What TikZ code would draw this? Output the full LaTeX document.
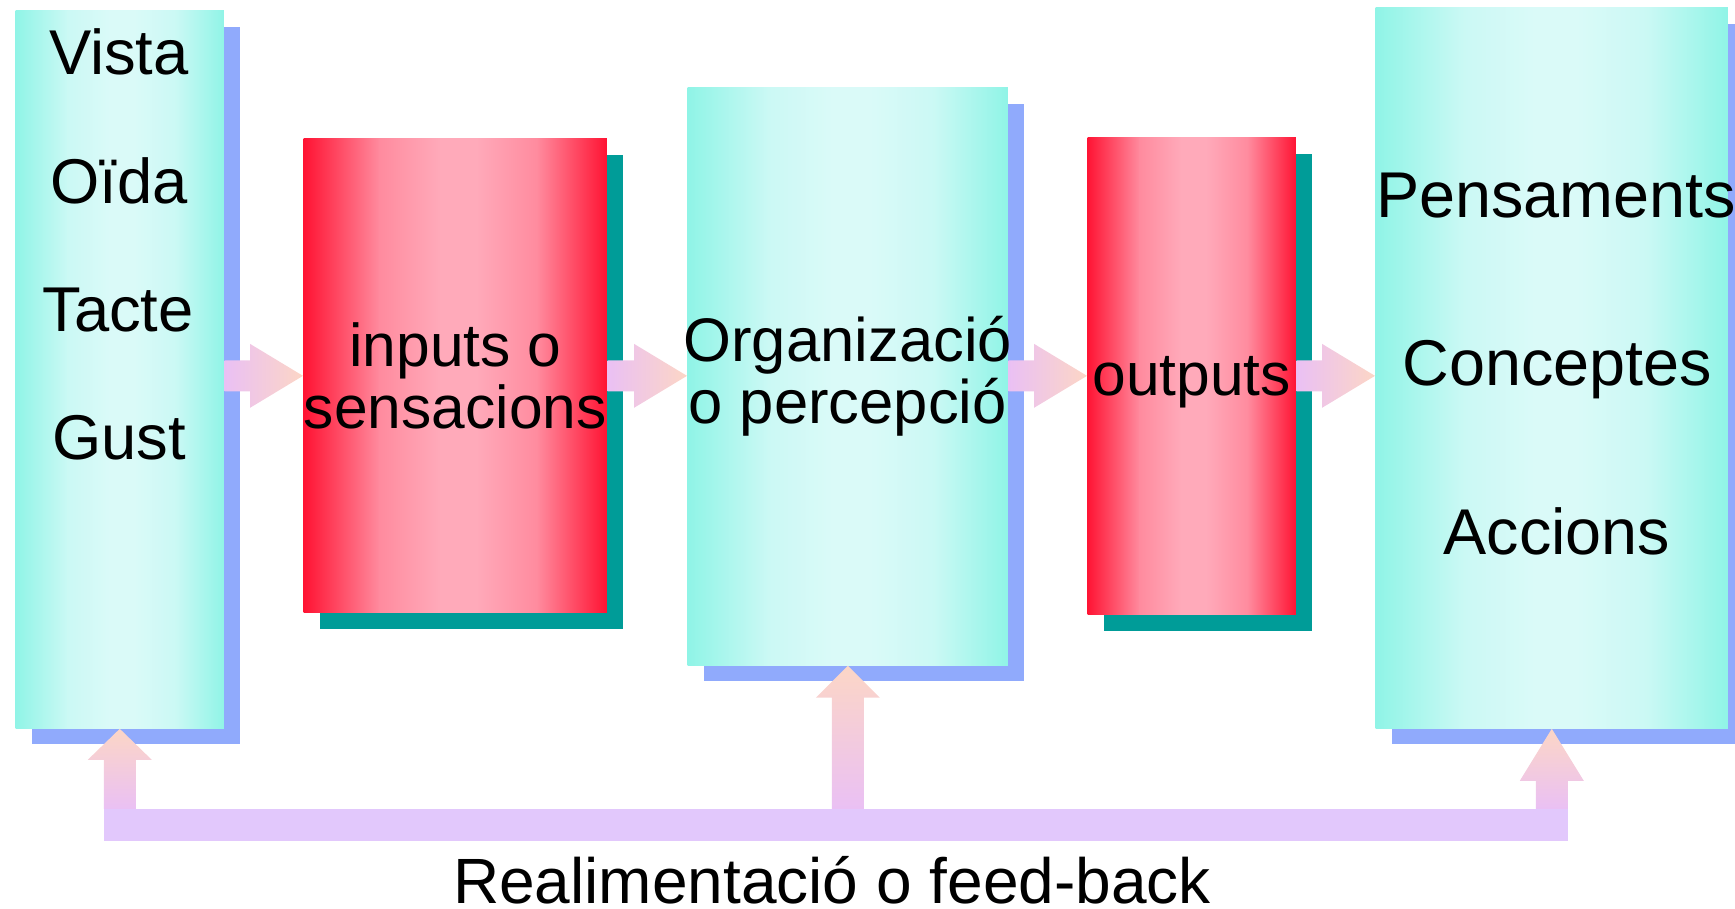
\documentclass[tikz,border=0pt]{standalone}
\usepackage{xcolor}
\usepackage{fontspec}
\setmainfont{Liberation Sans}
\usetikzlibrary{positioning,calc,shadows}

\definecolor{aquaedge}{RGB}{142,244,230}
\definecolor{aquamid}{RGB}{218,250,248}
\definecolor{rededge}{RGB}{255,16,48}
\definecolor{redmid}{RGB}{255,170,186}
\definecolor{shadowblue}{RGB}{144,170,252}
\definecolor{shadowteal}{RGB}{0,156,152}
\definecolor{feedlila}{RGB}{226,200,252}
\definecolor{arrowlila}{RGB}{234,192,244}
\definecolor{arrowpeach}{RGB}{252,214,198}

% degradat vora-centre-vora dins d'una caixa
\newcommand{\franges}[2]{%
  \path (path picture bounding box.south west) coordinate (ppsw)
        (path picture bounding box.north east) coordinate (ppne);
  \coordinate (pp1) at ($(ppsw)!0.25!(ppsw -| ppne)+(0,2)$);
  \coordinate (pp2) at ($(ppsw)!0.45!(ppsw -| ppne)+(0,2)$);
  \coordinate (pp3) at ($(ppsw)!0.57!(ppsw -| ppne)+(0,2)$);
  \coordinate (pp4) at ($(ppsw)!0.77!(ppsw -| ppne)+(0,2)$);
  \coordinate (ppt) at ($(ppne)+(0,-2)$);
  \shade[left color=#1, right color=#2!80!#1] ($(ppsw)+(-2,2)$) rectangle ($(pp1 |- ppt)+(0.5,0)$);
  \shade[left color=#2!80!#1, right color=#2] (pp1) rectangle ($(pp2 |- ppt)+(0.5,0)$);
  \shade[left color=#2!80!#1, right color=#1] ($(pp4)+(-0.5,0)$) rectangle ($(ppt)+(2,0)$);
  \shade[left color=#2, right color=#2!80!#1] ($(pp3)+(-0.5,0)$) rectangle (pp4 |- ppt);
  \fill[#2] ($(pp2)+(-0.5,0)$) rectangle ($(pp3 |- ppt)+(0.5,0)$);}

\newcommand{\fletxa}[2]{%
  \coordinate (cua) at (#1.east |- inputs.east);
  \coordinate (punta) at (#2.west |- inputs.east);
  \shade[fletxah] ($(cua)+(0,-15.5)$) -- ($(punta)+(-53,-15.5)$) -- ($(punta)+(-53,-32)$) -- (punta)
    -- ($(punta)+(-53,32)$) -- ($(punta)+(-53,15.5)$) -- ($(cua)+(0,15.5)$) -- cycle;}
\newcommand{\fletxaamunt}[2]{%
  \coordinate (punta) at (#1.south);
  \coordinate (base) at (#1.south |- fbe);
  \shade[fletxav] ($(base)+(-16,0)$) -- ($(punta)+(-16,#2)$) -- ($(punta)+(-32,#2)$) -- (punta)
    -- ($(punta)+(32,#2)$) -- ($(punta)+(16,#2)$) -- ($(base)+(16,0)$) -- cycle;}

\begin{document}
\begin{tikzpicture}[x=0.01cm, y=-0.01cm,
    every node/.style={inner sep=0pt, text=black},
    aquabox/.style={rectangle, anchor=north west, path picture={\franges{aquaedge}{aquamid}},
      drop shadow={shadow xshift=0.16cm, shadow yshift=-0.16cm, fill=shadowblue, opacity=1}},
    redbox/.style={rectangle, anchor=north west, align=center, path picture={\franges{rededge}{redmid}},
      drop shadow={shadow xshift=0.16cm, shadow yshift=-0.16cm, fill=shadowteal, opacity=1}},
    fletxah/.style={left color=arrowlila, right color=arrowpeach},
    fletxav/.style={bottom color=arrowlila, top color=arrowpeach}]

\useasboundingbox (0,0) rectangle (1735,909);

% caixes
\node[aquabox, minimum width=2.08cm, minimum height=7.17cm] (sentits) at (15,10) {};
\node[redbox, minimum width=3.03cm, minimum height=4.74cm, font=\fontsize{17.2}{17.6}\selectfont] (inputs) at (303,138) {inputs o\\sensacions};
\node[aquabox, align=center, inner xsep=-0.1cm, minimum width=3.20cm, minimum height=5.77cm, font=\fontsize{17.5}{17.6}\selectfont] (percepcio) at (687,87) {Organizació\\o percepció};
\node[redbox, text depth=0pt, minimum width=2.08cm, minimum height=4.77cm, font=\fontsize{17.2}{17.6}\selectfont] (outputs) at (1087,137) {outputs};
\node[aquabox, minimum width=3.52cm, minimum height=7.20cm] (resultats) at (1375,7) {};

\begin{scope}[every node/.style={inner sep=0pt, font=\fontsize{18}{20}\selectfont}]
  \node (vista) at (119,52) {Vista};
  \node (oida) at (119,181) {Oïda};
  \node (tacte) at (118,310) {Tacte};
  \node (gust) at (119,438) {Gust};
\end{scope}
\begin{scope}[every node/.style={inner sep=0pt, text depth=0pt, font=\fontsize{18.4}{20}\selectfont}]
  \node (pensaments) at (1556,195) {Pensaments};
  \node (conceptes) at (1557,363) {Conceptes};
  \node (accions) at (1557,531) {Accions};
\end{scope}

% fletxes
\fletxa{sentits}{inputs}
\fletxa{inputs}{percepcio}
\fletxa{percepcio}{outputs}
\fletxa{outputs}{resultats}

% realimentacio
\coordinate (fbe) at ($(sentits.south)+(-16,80)$);
\coordinate (fbd) at ($(resultats.south)+(16,112)$);
\fill[feedlila] (fbe) rectangle (fbd);
\fletxaamunt{sentits}{31}
\fletxaamunt{percepcio}{32}
\fletxaamunt{resultats}{52}
\node[font=\fontsize{18.2}{20}\selectfont] (realim) at (832,880) {Realimentació o feed-back};
\end{tikzpicture}
\end{document}
